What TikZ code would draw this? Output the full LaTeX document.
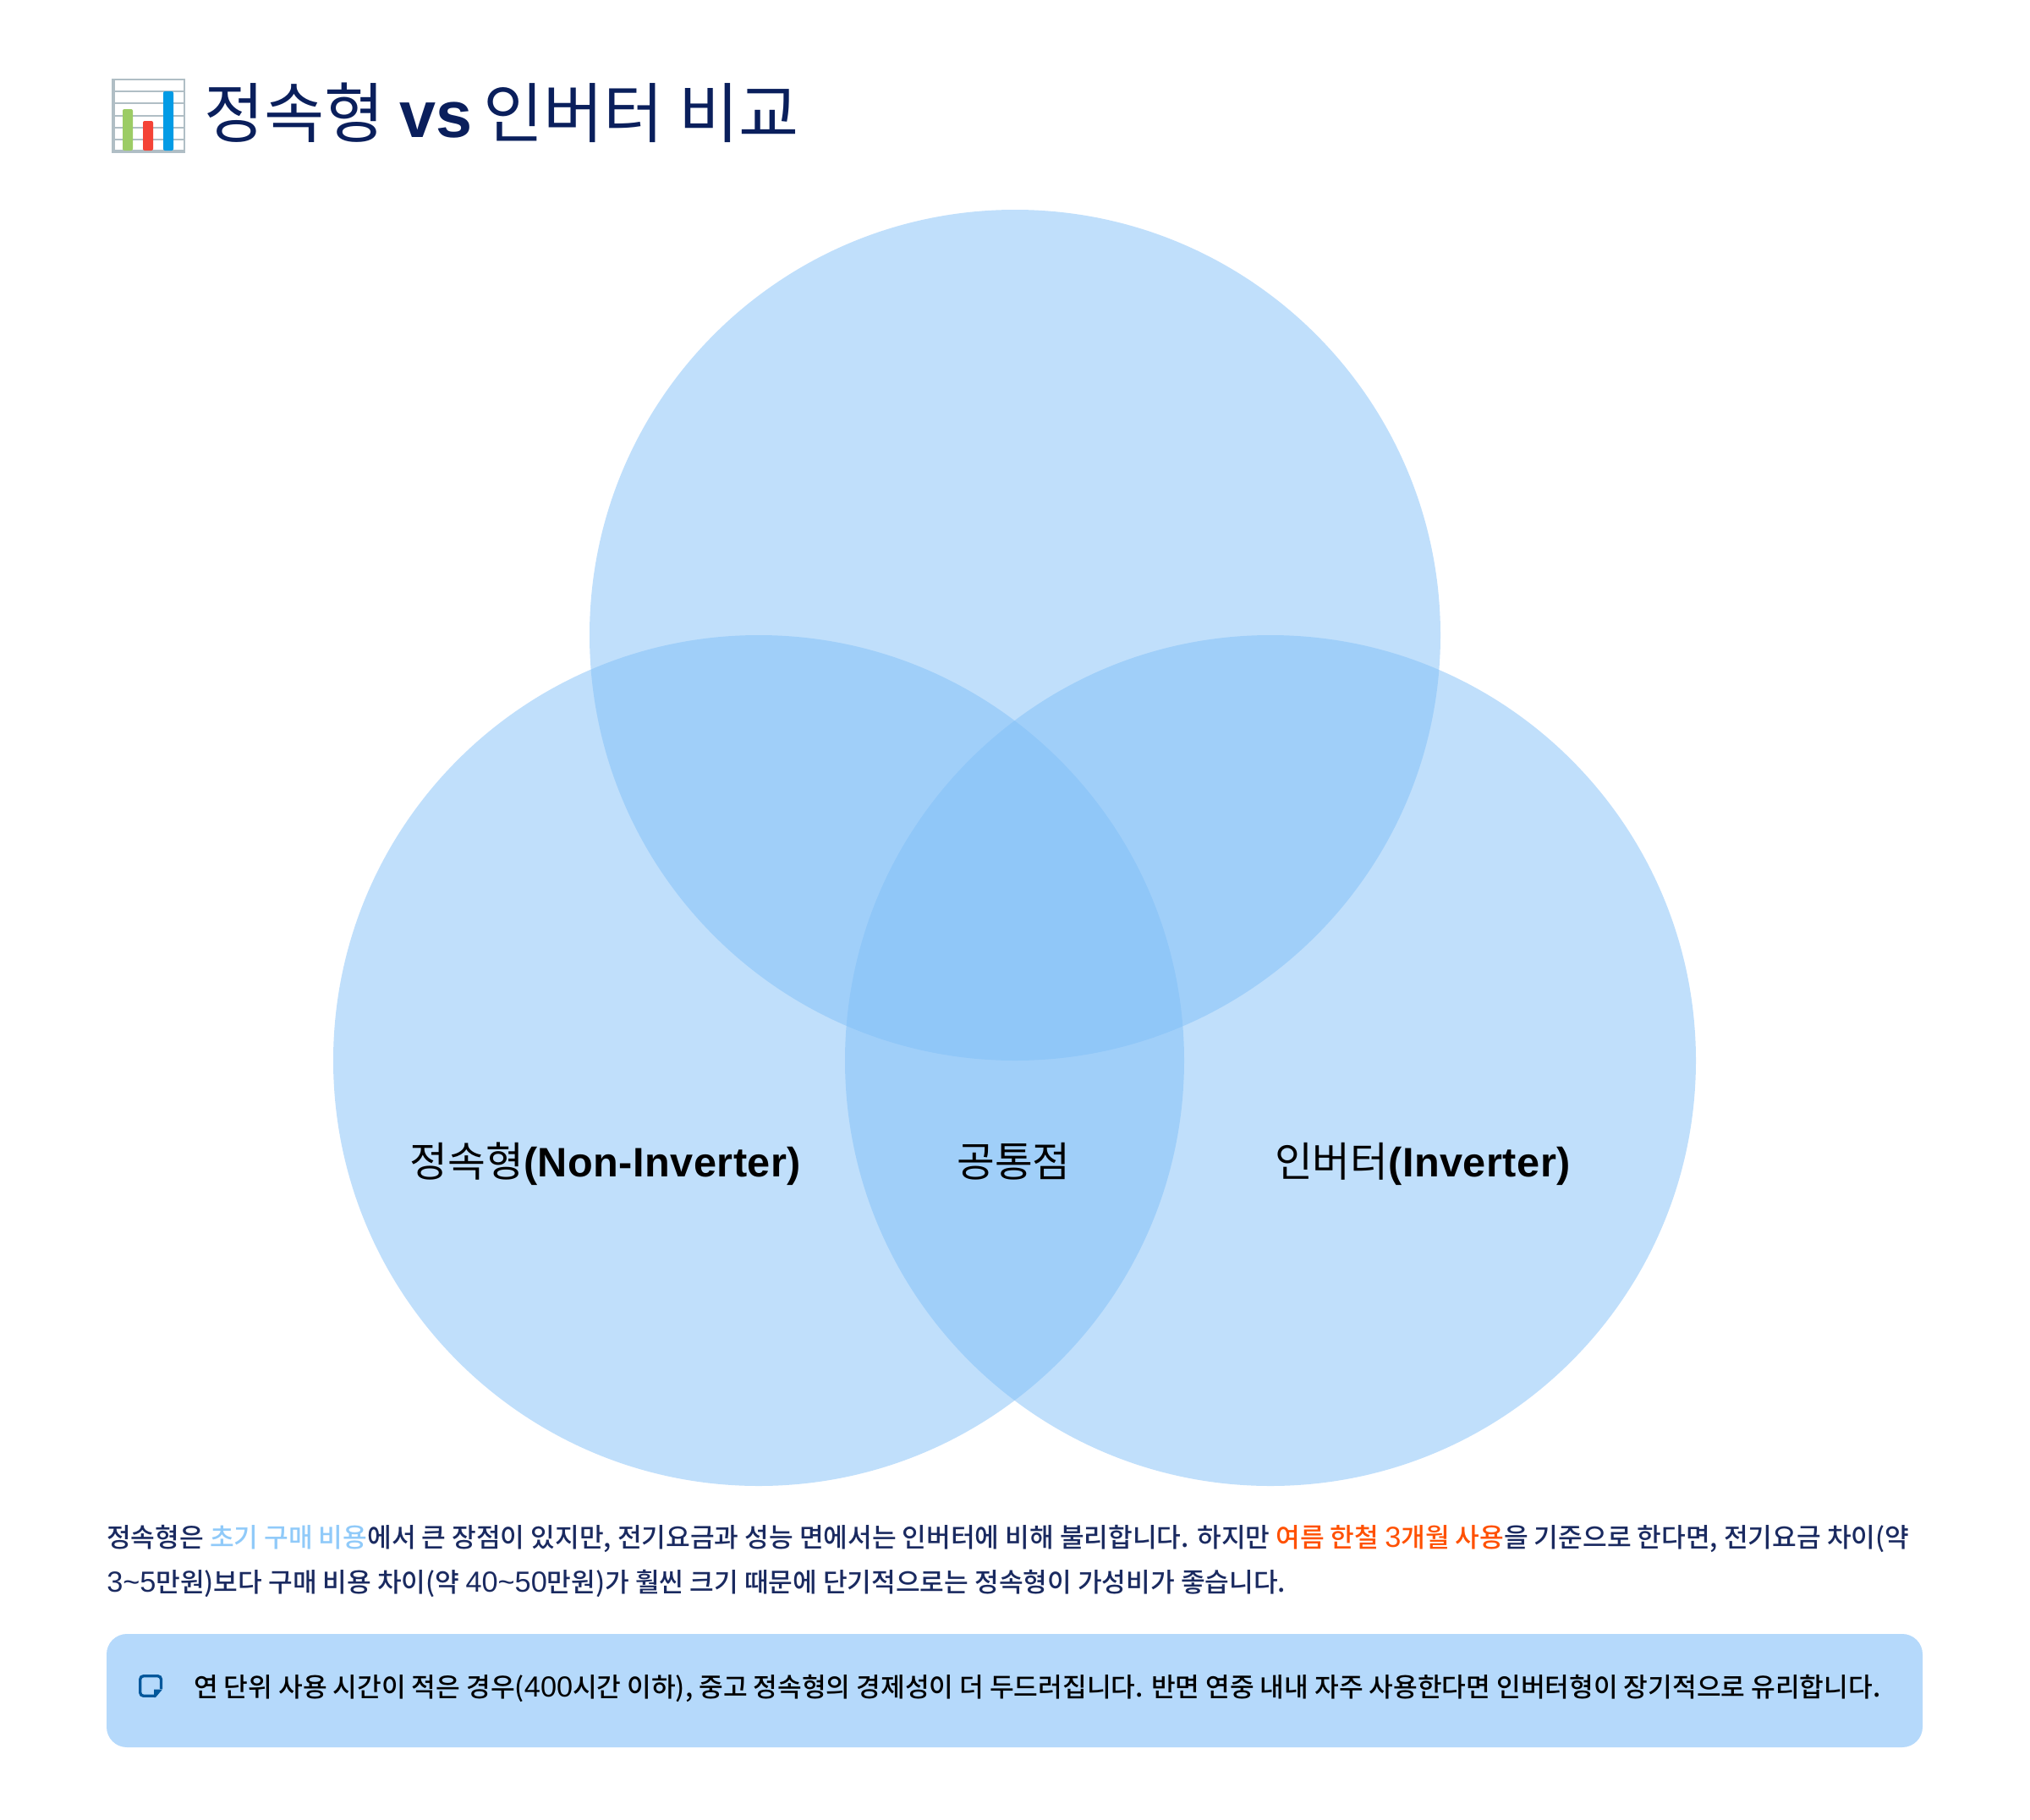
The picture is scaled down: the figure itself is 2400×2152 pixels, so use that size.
\documentclass[tikz,border=0pt]{standalone}
\usepackage{fontspec}
\setmainfont{Noto Sans CJK KR}
\newfontfamily\medko{Noto Sans CJK KR Medium}
\newfontfamily\latfont{Liberation Sans}[Scale=1.1]
\newfontfamily\boldfont{Liberation Sans Bold}
\newfontfamily\labfont{Liberation Sans Bold}[LetterSpace=1]
\definecolor{navy}{HTML}{0A1F5C}
\definecolor{bodynavy}{HTML}{1A2A60}
\definecolor{vennblue}{HTML}{81BFF7}
\definecolor{notebg}{HTML}{B5D9FB}
\definecolor{hiblue}{HTML}{90CAF9}
\definecolor{hiorange}{HTML}{FF5000}
\definecolor{noteicon}{HTML}{01579B}
\definecolor{gridgray}{HTML}{B0BEC5}
\begin{document}
\begin{tikzpicture}[x=0.75pt,y=-0.75pt,
		vnode/.style = {shape = circle,
		                fill = vennblue,
		                fill opacity = 0.5,
		                inner sep = 0pt,
		                minimum size = 754.5pt},
		tnode/.style = {anchor = base west,
		                inner sep = 0pt},
		lnode/.style = {anchor = base,
		                inner sep = 0pt,
		                font = \fontsize{36.5}{42}\selectfont,
		                color = black},
		bnode/.style = {tnode,
		                font = \medko\fontsize{23.4}{28}\selectfont,
		                color = bodynavy}]
	\useasboundingbox (0,0) rectangle (2400,2152);
	% title with chart icon
	\draw[gridgray,line width=1.5pt,fill=white] (133,94) rectangle (218,180);
	\foreach \yy in {108,122,137,151,165}
		\draw[gridgray,line width=1.2pt] (133,\yy) -- (218,\yy);
	\fill[gridgray] (132,93) rectangle (136,181);
	\fill[gridgray] (132,177) rectangle (219,181);
	\fill[color={rgb,255:red,156;green,204;blue,101},rounded corners=1.5pt] (145,178) -- (145,129) -- (157,129) -- (157,178) -- cycle;
	\fill[color={rgb,255:red,244;green,67;blue,54},rounded corners=1.5pt] (169,178) -- (169,143) -- (181,143) -- (181,178) -- cycle;
	\fill[color={rgb,255:red,3;green,155;blue,229},rounded corners=1.5pt] (193,178) -- (193,108) -- (205,108) -- (205,178) -- cycle;
	\node[tnode,color=navy,font=\fontsize{58}{68}\selectfont] (title) at (241,162) {정속형 {\boldfont vs}\hspace{-3pt} 인버터 비교};
	% venn
	\node[vnode] (top) at (1200,751) {};
	\node[vnode] (left) at (897,1254) {};
	\node[vnode] (right) at (1502,1254) {};
	\node[lnode] (lleft) at (716,1391) {정속형{\labfont (Non-Inverter)}};
	\node[lnode] (lmid) at (1198.5,1391) {공통점};
	\node[lnode] (lright) at (1682,1391) {인버터{\labfont (Inverter)}};
	% text below
	\node[bnode] (line1) at (126,1829) {정속형은 \textcolor{hiblue}{초기 구매 비용}에서 큰 장점이 있지만, 전기요금과 성능 면에서는 인버터에 비해 불리합니다. 하지만 \textcolor{hiorange}{여름 한철 {\latfont 3}개월 사용}을 기준으로 한다면, 전기요금 차이(약};
	\node[bnode] (line2) at (126,1882) {{\latfont 3\textasciitilde5}만원)보다 구매 비용 차이(약 {\latfont 40\textasciitilde50}만원)가 훨씬 크기 때문에 단기적으로는 정속형이 가성비가 좋습니다.};
	% note box
	\node[fill=notebg,rounded corners=18pt,minimum width=1610.25pt,minimum height=100.5pt,inner sep=0pt] (notebox) at (1199.5,1999) {};
	\draw[noteicon,line width=2.5pt,rounded corners=3pt] (190.5,1997) -- (190.5,1981.7) -- (165.7,1981.7) -- (165.7,2005.3) -- (182,2005.3);
	\fill[noteicon] (182,1997.5) -- (192,1997.5) -- (184,2007) -- (182,2007) -- cycle;
	\node[bnode,color=black] (notetext) at (229,2006) {연 단위 사용 시간이 적은 경우({\latfont 400}시간 이하), 중고 정속형의 경제성이 더 두드러집니다. 반면 연중 내내 자주 사용한다면 인버터형이 장기적으로 유리합니다.};
\end{tikzpicture}
\end{document}
